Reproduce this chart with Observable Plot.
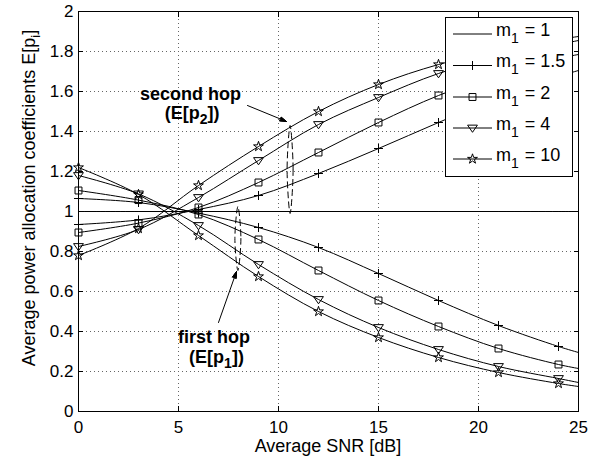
<!DOCTYPE html>
<html>
<head>
<meta charset="utf-8">
<script src="https://cdn.jsdelivr.net/npm/d3@7"></script>
<script src="https://cdn.jsdelivr.net/npm/@observablehq/plot@0.6"></script>
<style>
html, body { margin: 0; padding: 0; background: #fff; }
#chart { width: 598px; height: 461px; }
</style>
</head>
<body>
<div id="chart"></div>
<script>
// ---------- data ----------
const snr = [0, 3, 6, 9, 12, 15, 18, 21, 24, 25];     // dB; markers drawn at the first 9 points
const markerSnrMax = 24;

const seriesNames = ["1", "1.5", "2", "4", "10"];     // m_1 values

// second hop E[p2]
const hop2_m1  = [1, 1, 1, 1, 1, 1, 1, 1, 1, 1];
const hop2_m15 = [0.935, 0.958, 1.010, 1.080, 1.190, 1.315, 1.445, 1.570, 1.675, 1.705];
const hop2_m2  = [0.895, 0.942, 1.020, 1.145, 1.295, 1.445, 1.580, 1.685, 1.765, 1.785];
const hop2_m4  = [0.825, 0.910, 1.070, 1.255, 1.435, 1.570, 1.690, 1.775, 1.835, 1.855];
const hop2_m10 = [0.780, 0.915, 1.130, 1.325, 1.500, 1.635, 1.735, 1.805, 1.860, 1.875];

// first hop E[p1]
const hop1_m1  = [1, 1, 1, 1, 1, 1, 1, 1, 1, 1];
const hop1_m15 = [1.065, 1.045, 0.992, 0.920, 0.820, 0.690, 0.555, 0.430, 0.325, 0.295];
const hop1_m2  = [1.105, 1.057, 0.985, 0.860, 0.705, 0.555, 0.425, 0.315, 0.235, 0.215];
const hop1_m4  = [1.180, 1.088, 0.930, 0.735, 0.560, 0.420, 0.310, 0.225, 0.165, 0.145];
const hop1_m10 = [1.220, 1.085, 0.880, 0.675, 0.500, 0.370, 0.270, 0.195, 0.140, 0.125];

const xTicks = [0, 5, 10, 15, 20, 25];
const xTickLabels = ["0", "5", "10", "15", "20", "25"];
const yTicks = [0, 0.2, 0.4, 0.6, 0.8, 1, 1.2, 1.4, 1.6, 1.8, 2];
const yTickLabels = ["0", "0.2", "0.4", "0.6", "0.8", "1", "1.2", "1.4", "1.6", "1.8", "2"];

// annotations (data coordinates)
const annotText = ["second hop", "(E[p_2])", "first hop", "(E[p_1])"];
const annotX    = [5.6, 5.68, 6.78, 6.9];
const annotY    = [1.585, 1.49, 0.37, 0.27];
const arrowX1 = [8.45, 7.0];
const arrowY1 = [1.53, 0.445];
const arrowX2 = [10.4, 7.9];
const arrowY2 = [1.45, 0.70];
// grouping ellipses: top, right, bottom, left points
const ellipse2X = [10.58, 10.73, 10.58, 10.43];
const ellipse2Y = [1.430, 1.21, 0.990, 1.21];
const ellipse1X = [7.97, 8.12, 7.97, 7.82];
const ellipse1Y = [1.025, 0.865, 0.705, 0.865];

const xLabel = "Average SNR [dB]";
const yLabel = "Average power allocation coefficients E[p_i]";

// ---------- build tables ----------
const hop2 = [hop2_m1, hop2_m15, hop2_m2, hop2_m4, hop2_m10];
const hop1 = [hop1_m1, hop1_m15, hop1_m2, hop1_m4, hop1_m10];
const rows = [];
seriesNames.forEach((name, s) => {
  snr.forEach((x, i) => {
    rows.push({snr: x, value: hop2[s][i], series: name, hop: "p2"});
    rows.push({snr: x, value: hop1[s][i], series: name, hop: "p1"});
  });
});
const annot = annotText.map((t, i) => ({t, x: annotX[i], y: annotY[i]}));
const arrows = arrowX1.map((x1, i) => ({x1, y1: arrowY1[i], x2: arrowX2[i], y2: arrowY2[i]}));
const ellipses = [
  ...ellipse2X.map((x, i) => ({x, y: ellipse2Y[i], e: "2"})),
  ...ellipse1X.map((x, i) => ({x, y: ellipse1Y[i], e: "1"}))
];

// ---------- symbols ----------
const triangleDown = {
  draw(ctx, size) {
    const r = Math.sqrt(size / Math.PI);
    const w = r * 1.2, h = r * 1.75;
    ctx.moveTo(-w, -h * 0.4);
    ctx.lineTo(w, -h * 0.4);
    ctx.lineTo(0, h * 0.6);
    ctx.closePath();
  }
};
const markerStyle = {
  "1.5": {symbol: "plus", r: 3.0},
  "2":   {symbol: "square", r: 3.9},
  "4":   {symbol: triangleDown, r: 4.1},
  "10":  {symbol: "star", r: 3.1}
};

const font = "'Liberation Sans', Arial, Helvetica, sans-serif";

const marks = [
  Plot.gridX({ticks: xTicks.slice(1, -1), stroke: "#666", strokeOpacity: 1, strokeDasharray: "1,3"}),
  Plot.gridY({ticks: yTicks.slice(1, -1), stroke: "#666", strokeOpacity: 1, strokeDasharray: "1,3"}),
  Plot.axisX({ticks: xTicks, anchor: "bottom", tickSize: -5, tickPadding: 14, label: null,
              tickFormat: d => xTickLabels[xTicks.indexOf(d)], fontSize: 17}),
  Plot.axisX({ticks: xTicks, anchor: "top", tickSize: -5, label: null, tickFormat: () => ""}),
  Plot.axisY({ticks: yTicks, anchor: "left", tickSize: -5, tickPadding: 10, label: null,
              tickFormat: d => yTickLabels[yTicks.findIndex(v => Math.abs(v - d) < 1e-9)], fontSize: 17}),
  Plot.axisY({ticks: yTicks, anchor: "right", tickSize: -5, label: null, tickFormat: () => ""}),
  Plot.line(rows, {x: "snr", y: "value", z: d => d.series + d.hop, curve: "catmull-rom",
                   stroke: "#000", strokeWidth: 1}),
];
seriesNames.slice(1).forEach(name => {
  const st = markerStyle[name];
  marks.push(Plot.dot(rows.filter(d => d.series === name && d.snr <= markerSnrMax), {
    x: "snr", y: "value", symbol: st.symbol, r: st.r, stroke: "#000", fill: "none", strokeWidth: 1
  }));
});
marks.push(
  Plot.line(ellipses, {x: "x", y: "y", z: "e", curve: "catmull-rom-closed", stroke: "#000",
                       strokeWidth: 1, strokeDasharray: "6,4"}),
  Plot.arrow(arrows, {x1: "x1", y1: "y1", x2: "x2", y2: "y2", stroke: "#000", strokeWidth: 1,
                      headLength: 10, headAngle: 34, ariaLabel: "annotarrow"}),
  Plot.text(annot, {x: "x", y: "y", text: "t", fontWeight: "bold", fontSize: 18, fill: "#000"}),
  Plot.frame({stroke: "#000", strokeWidth: 1})
);

const plot = Plot.plot({
  width: 598,
  height: 461,
  marginLeft: 78,
  marginRight: 20,
  marginTop: 11,
  marginBottom: 50,
  x: {domain: [0, 25]},
  y: {domain: [0, 2]},
  style: {fontFamily: font, fontSize: "17px", color: "#000", background: "#fff", overflow: "visible"},
  marks
});

const svg = d3.select(plot);
const NS = "http://www.w3.org/2000/svg";

// filled arrow heads (close the open V that Plot draws)
svg.selectAll("g").filter(function () {
  return (this.getAttribute("aria-label") || "").includes("arrow");
}).selectAll("path").each(function () {
  const nums = (this.getAttribute("d") || "").match(/-?\d*\.?\d+(?:e-?\d+)?/g);
  if (!nums || nums.length < 6) return;
  const v = nums.slice(-6).map(Number);
  const head = `M${v[0]},${v[1]}L${v[2]},${v[3]}L${v[4]},${v[5]}Z`;
  d3.select(this.parentNode).append("path").attr("d", head)
    .attr("fill", "#000").attr("stroke", "#000").attr("stroke-width", 1);
});

// subscripts in texts
function applySubs(el, sub = 5, subSize = "14px") {
  const s = el.textContent;
  if (!s.includes("_")) return;
  const parts = s.split(/_(\w)/);
  el.textContent = "";
  parts.forEach((p, i) => {
    const t = document.createElementNS(NS, "tspan");
    t.textContent = p;
    if (i % 2 === 1) { t.setAttribute("dy", sub); t.setAttribute("font-size", subSize); }
    else if (i > 0) { t.setAttribute("dy", -sub); }
    el.appendChild(t);
  });
}
svg.selectAll("text").each(function () { applySubs(this); });

// axis labels
svg.append("text")
  .attr("x", 328).attr("y", 452)
  .attr("text-anchor", "middle").attr("font-size", 18).attr("font-family", font)
  .text(xLabel);
const yl = svg.append("text")
  .attr("transform", "translate(35,198) rotate(-90)")
  .attr("text-anchor", "middle").attr("font-size", 18).attr("font-family", font)
  .text(yLabel);
applySubs(yl.node(), 5, "13px");

// legend (inside the plot, top right)
const lg = svg.append("g").attr("font-family", font).attr("text-anchor", "start");
lg.append("rect").attr("x", 445.5).attr("y", 17.5).attr("width", 127).attr("height", 159)
  .attr("fill", "#fff").attr("stroke", "#000");
const rowY = [34, 65.5, 97, 128, 159];
const d3Sym = {"plus": d3.symbolPlus, "square": d3.symbolSquare, "star": d3.symbolStar};
seriesNames.forEach((name, i) => {
  const y = rowY[i];
  lg.append("line").attr("x1", 453).attr("x2", 492).attr("y1", y).attr("y2", y)
    .attr("stroke", "#000");
  const st = markerStyle[name];
  if (st) {
    const type = typeof st.symbol === "string" ? d3Sym[st.symbol] : st.symbol;
    lg.append("path").attr("transform", `translate(472.5,${y})`)
      .attr("d", d3.symbol(type, Math.PI * st.r * st.r)())
      .attr("fill", "none").attr("stroke", "#000");
  }
  const t = lg.append("text").attr("x", 496).attr("y", y + 1.5).attr("font-size", 18)
    .attr("text-anchor", "start")
    .text(`m_1 = ${name}`);
  applySubs(t.node(), 7, "14px");
  t.selectAll("tspan").filter((d, k) => k === 2).attr("dx", 1);
});

document.getElementById("chart").appendChild(plot);
</script>
</body>
</html>
